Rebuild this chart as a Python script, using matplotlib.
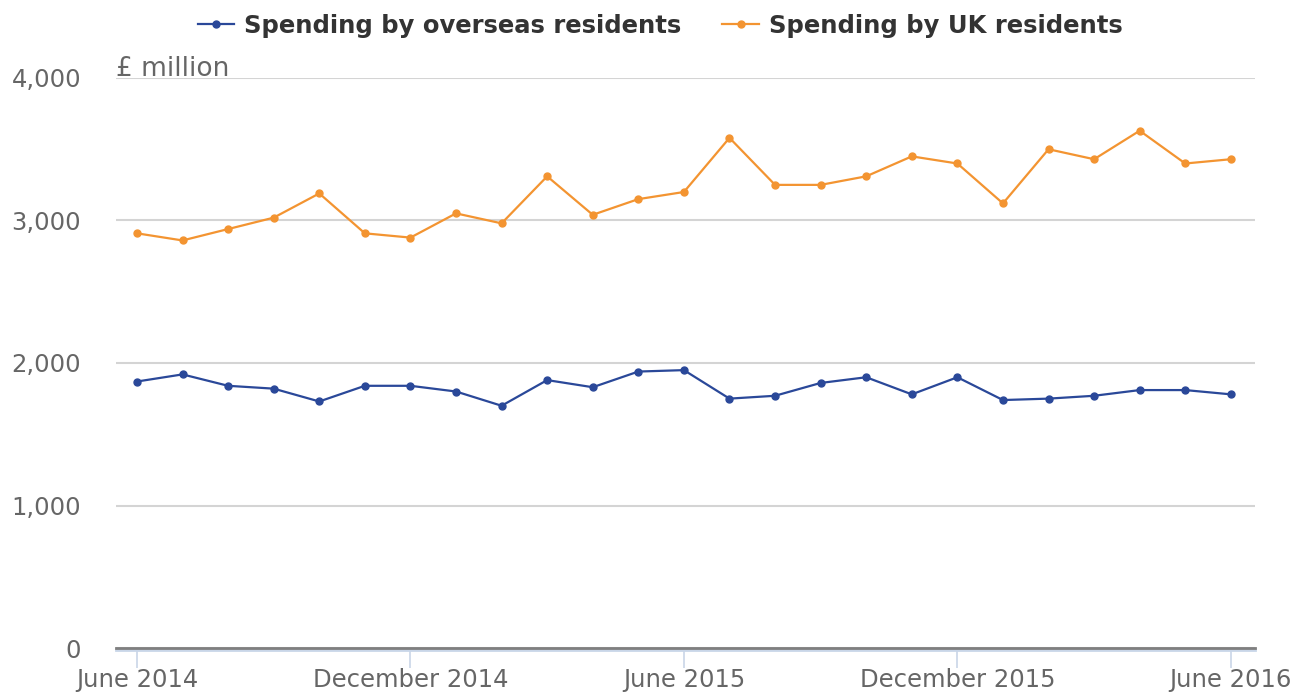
import matplotlib
matplotlib.use('Agg')
import matplotlib.pyplot as plt
import numpy as np

plt.rcParams['font.family'] = ['DejaVu Sans']

# monthly data, June 2014 - June 2016
months = ['Jun 2014', 'Jul 2014', 'Aug 2014', 'Sep 2014', 'Oct 2014', 'Nov 2014',
          'Dec 2014', 'Jan 2015', 'Feb 2015', 'Mar 2015', 'Apr 2015', 'May 2015',
          'Jun 2015', 'Jul 2015', 'Aug 2015', 'Sep 2015', 'Oct 2015', 'Nov 2015',
          'Dec 2015', 'Jan 2016', 'Feb 2016', 'Mar 2016', 'Apr 2016', 'May 2016',
          'Jun 2016']
overseas = [1870, 1920, 1840, 1820, 1730, 1840, 1840, 1800, 1700, 1880, 1830, 1940,
            1950, 1750, 1770, 1860, 1900, 1780, 1900, 1740, 1750, 1770, 1810, 1810,
            1780]
uk = [2910, 2860, 2940, 3020, 3190, 2910, 2880, 3050, 2980, 3310, 3040, 3150,
      3200, 3580, 3250, 3250, 3310, 3450, 3400, 3120, 3500, 3430, 3630, 3400,
      3430]
tick_labels = ['June 2014', 'December 2014', 'June 2015', 'December 2015', 'June 2016']
tick_idx = [0, 6, 12, 18, 24]

blue = '#2a4899'
orange = '#f39431'
grey_text = '#666666'

fig = plt.figure(figsize=(12.98, 6.93), dpi=100)
ax = fig.add_axes([116/1298, 1 - 648/693, (1255-116)/1298, (648-78)/693])

x = np.arange(len(months))
ax.plot(x, overseas, color=blue, lw=1.6, marker='o', ms=5, label='Spending by overseas residents', zorder=3)
ax.plot(x, uk, color=orange, lw=1.6, marker='o', ms=5, label='Spending by UK residents', zorder=3)

ax.set_xlim(-0.46, 24.53)
ax.set_ylim(0, 4000)
ax.set_yticks([0, 1000, 2000, 3000, 4000])
ax.set_yticklabels(['0', '1,000', '2,000', '3,000', '4,000'])
ax.yaxis.grid(True, color='#d4d4d4', lw=1.5)
ax.set_axisbelow(True)
for s in ['top', 'right', 'left']:
    ax.spines[s].set_visible(False)
ax.spines['bottom'].set_color('#7f7f7f')
ax.spines['bottom'].set_linewidth(2)
ax.axhline(-14, color='#c9d6e8', lw=2, clip_on=False, zorder=1)

ax.set_xticks(tick_idx)
ax.set_xticklabels(tick_labels)
ax.tick_params(axis='x', length=14.4, width=1.2, color='#c9d6e8', labelsize=17.5,
               labelcolor=grey_text, pad=0)
ax.tick_params(axis='y', length=0, labelsize=17.5, labelcolor=grey_text, pad=25)

ax.text(0, 4015, '£ million', fontsize=19, color=grey_text, va='baseline', ha='left',
        transform=ax.get_yaxis_transform())

leg = fig.legend(loc='upper center', bbox_to_anchor=(0.5085, 1.012), ncol=2, frameon=False,
                 prop={'weight': 'bold', 'size': 17.5}, handlelength=1.5, columnspacing=1.7,
                 handletextpad=0.4)
for t in leg.get_texts():
    t.set_color('#333333')

fig.savefig('out.png', dpi=100)
